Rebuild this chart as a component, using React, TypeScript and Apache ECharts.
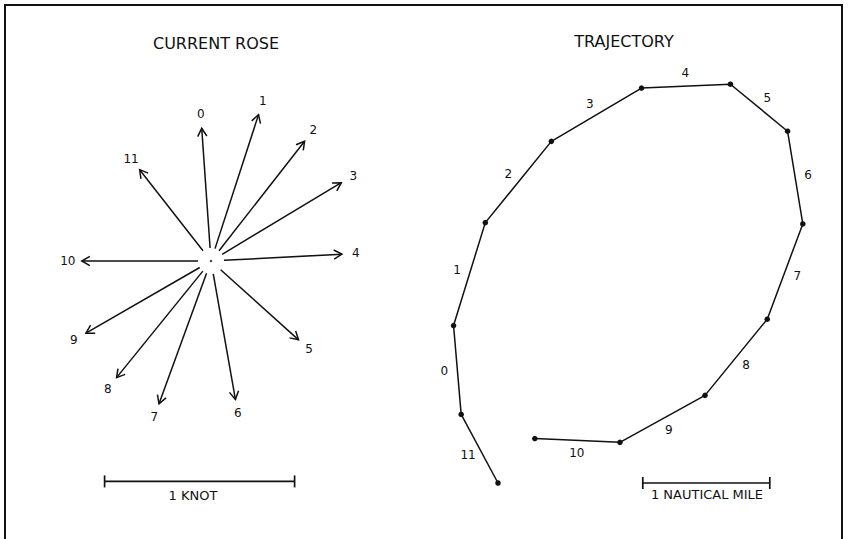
import React, { useEffect, useRef } from "react";
import * as echarts from "echarts";

// Hour of the tidal cycle for each observation
const hours = ["0", "1", "2", "3", "4", "5", "6", "7", "8", "9", "10", "11"];

// Hourly current: speed in knots, direction of flow in degrees clockwise from north
const roseSpeed = [0.70, 0.81, 0.80, 0.80, 0.69, 0.62, 0.74, 0.80, 0.79, 0.76, 0.68, 0.61];
const roseDirection = [356, 18, 38, 59, 87, 132, 170, 200, 219, 240, 270, 322];

// Progressive-vector trajectory: vertices in nautical miles east / north of the start
const trackEast = [0, -0.29, -0.35, -0.10, 0.42, 1.13, 1.83, 2.28, 2.40, 2.12, 1.63, 0.96, 0.29];
const trackNorth = [0, 0.54, 1.24, 2.05, 2.69, 3.11, 3.14, 2.77, 2.04, 1.29, 0.69, 0.32, 0.35];
// Hour that each trajectory leg belongs to (leg i runs from vertex i to vertex i + 1)
const trackLegHours = ["11", "0", "1", "2", "3", "4", "5", "6", "7", "8", "9", "10"];

const INK = "#111";
const FONT = '"DejaVu Sans", "Liberation Sans", sans-serif';

export default function App() {
  const ref = useRef<HTMLDivElement>(null);

  useEffect(() => {
    if (!ref.current) return;
    const chart = echarts.init(ref.current, undefined, { renderer: "svg" });

    const roseData = roseSpeed.map((s, i) => {
      const rad = (roseDirection[i] * Math.PI) / 180;
      return [s * Math.sin(rad), s * Math.cos(rad), i];
    });

    const trackData = trackEast.map((x, i) => [x, trackNorth[i]]);
    const legData = trackLegHours.map((_, i) => [
      trackEast[i],
      trackNorth[i],
      trackEast[i + 1],
      trackNorth[i + 1],
      i,
    ]);

    // one-unit scale bars: [start x, y, length] in each panel's own units
    const knotBar = [[-0.56, -1.16, 1]];
    const mileBar = [[1.14, 0.0, 1]];

    const textStyle = (text: string, x: number, y: number, size: number) => ({
      text,
      x,
      y,
      fill: INK,
      font: `${size}px ${FONT}`,
      align: "center",
      verticalAlign: "middle",
      textAlign: "center",
      textVerticalAlign: "middle",
    });

    const renderScaleBar = (params: any, api: any) => {
      const a = api.coord([api.value(0), api.value(1)]);
      const b = api.coord([api.value(0) + api.value(2), api.value(1)]);
      const st = { stroke: INK, lineWidth: 1.7 };
      return {
        type: "group",
        children: [
          { type: "line", shape: { x1: a[0], y1: a[1], x2: b[0], y2: b[1] }, style: st },
          { type: "line", shape: { x1: a[0], y1: a[1] - 6, x2: a[0], y2: a[1] + 6 }, style: st },
          { type: "line", shape: { x1: b[0], y1: b[1] - 6, x2: b[0], y2: b[1] + 6 }, style: st },
        ],
      };
    };

    const option: any = {
      animation: false,
      backgroundColor: "#fff",
      grid: [
        { left: 21, top: 71, width: 380, height: 456, containLabel: false, outerBoundsMode: "none" },
        { left: 421.8, top: 38.5, width: 431.8, height: 508, containLabel: false, outerBoundsMode: "none" },
      ],
      xAxis: [
        { type: "value", gridIndex: 0, min: -1, max: 1, show: false },
        { type: "value", gridIndex: 1, min: -0.6, max: 2.8, show: false },
      ],
      yAxis: [
        { type: "value", gridIndex: 0, min: -1.4, max: 1, show: false },
        { type: "value", gridIndex: 1, min: -0.5, max: 3.5, show: false },
      ],
      graphic: [
        {
          type: "polyline",
          shape: { points: [[5, 560], [5, 5], [842, 5], [842, 560]] },
          style: { stroke: INK, lineWidth: 2, fill: "none" },
          silent: true,
        },
        { type: "text", style: textStyle("CURRENT ROSE", 216, 43, 16), silent: true },
        { type: "text", style: textStyle("TRAJECTORY", 624, 41, 16), silent: true },
        { type: "text", style: textStyle("1 KNOT", 193, 495, 13), silent: true },
        { type: "text", style: textStyle("1 NAUTICAL MILE", 707, 494, 13), silent: true },
      ],
      series: [
        // current rose: one arrow per hour, drawn out from the centre
        {
          type: "custom",
          xAxisIndex: 0,
          yAxisIndex: 0,
          clip: false,
          silent: true,
          data: roseData,
          renderItem: (params: any, api: any) => {
            const c = api.coord([0, 0]);
            const t = api.coord([api.value(0), api.value(1)]);
            const dx = t[0] - c[0];
            const dy = t[1] - c[1];
            const len = Math.hypot(dx, dy);
            const ux = dx / len;
            const uy = dy / len;
            const gap = 13;
            const head = 8;
            const half = 4.6;
            const bx = t[0] - ux * head;
            const by = t[1] - uy * head;
            const px = -uy;
            const py = ux;
            const st = { stroke: INK, lineWidth: 1.5, fill: "none" };
            const idx = api.value(2);
            return {
              type: "group",
              children: [
                {
                  type: "line",
                  shape: { x1: c[0] + ux * gap, y1: c[1] + uy * gap, x2: t[0], y2: t[1] },
                  style: st,
                },
                {
                  type: "polyline",
                  shape: {
                    points: [
                      [bx + px * half, by + py * half],
                      [t[0], t[1]],
                      [bx - px * half, by - py * half],
                    ],
                  },
                  style: st,
                },
                {
                  type: "text",
                  style: textStyle(hours[idx], t[0] + ux * 14, t[1] + uy * 14, 12),
                },
              ],
            };
          },
        },
        {
          type: "scatter",
          xAxisIndex: 0,
          yAxisIndex: 0,
          silent: true,
          symbolSize: 2.5,
          itemStyle: { color: INK },
          data: [[0, 0]],
        },
        {
          type: "custom",
          xAxisIndex: 0,
          yAxisIndex: 0,
          clip: false,
          silent: true,
          data: knotBar,
          renderItem: renderScaleBar,
        },
        // trajectory
        {
          type: "line",
          xAxisIndex: 1,
          yAxisIndex: 1,
          silent: true,
          data: trackData,
          symbol: "circle",
          symbolSize: 5.5,
          showSymbol: true,
          itemStyle: { color: INK },
          lineStyle: { color: INK, width: 1.5 },
          z: 3,
        },
        {
          type: "custom",
          xAxisIndex: 1,
          yAxisIndex: 1,
          clip: false,
          silent: true,
          data: legData,
          renderItem: (params: any, api: any) => {
            const a = api.coord([api.value(0), api.value(1)]);
            const b = api.coord([api.value(2), api.value(3)]);
            const dx = b[0] - a[0];
            const dy = b[1] - a[1];
            const len = Math.hypot(dx, dy);
            // label sits to the left of the direction of travel
            const ox = (dy / len) * 13;
            const oy = (-dx / len) * 13;
            const mx = (a[0] + b[0]) / 2 + ox;
            const my = (a[1] + b[1]) / 2 + oy;
            return {
              type: "text",
              style: textStyle(trackLegHours[api.value(4)], mx, my, 12),
            };
          },
        },
        {
          type: "custom",
          xAxisIndex: 1,
          yAxisIndex: 1,
          clip: false,
          silent: true,
          data: mileBar,
          renderItem: renderScaleBar,
        },
      ],
    };

    chart.setOption(option);
    return () => chart.dispose();
  }, []);

  return (
    <div
      ref={ref}
      style={{ position: "absolute", left: 0, top: 0, width: 851, height: 539, background: "#fff" }}
    />
  );
}
